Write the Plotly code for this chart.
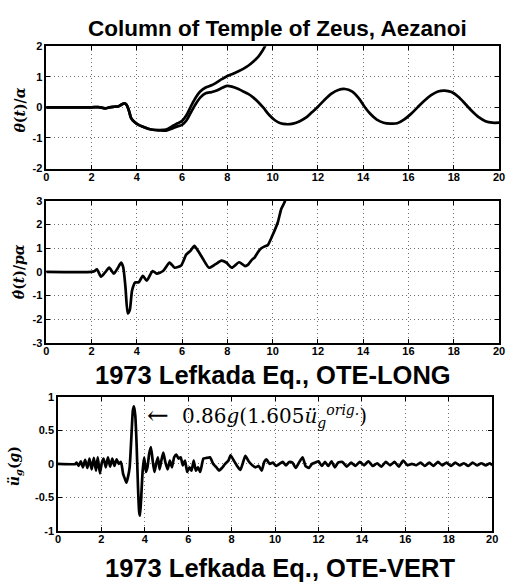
import plotly.graph_objects as go

W, H = 508, 587

# ---------------- data ----------------
theta_A_t = [0, 2.0, 2.3, 2.6, 2.8, 3.0, 3.2, 3.35, 3.45, 3.55,
             3.65, 3.75, 3.9, 4.1, 4.3, 4.5, 4.7, 5.0, 5.3, 5.6,
             5.8, 6.0, 6.2, 6.4, 6.61, 6.8, 7.04, 7.3, 7.5, 7.75,
             7.98, 8.2, 8.49, 8.7, 8.92, 9.15, 9.37, 9.55, 9.7, 9.85]
theta_A = [0, 0, 0.01, -0.03, 0.0, 0.02, 0.04, 0.1, 0.13, 0.08,
           -0.1, -0.35, -0.48, -0.58, -0.64, -0.7, -0.73, -0.74, -0.72, -0.6,
           -0.52, -0.44, -0.25, 0.05, 0.33, 0.52, 0.65, 0.72, 0.8, 0.92,
           1.02, 1.08, 1.18, 1.26, 1.36, 1.5, 1.66, 1.85, 2.05, 2.3]

theta_B_t = [0, 2.0, 2.3, 2.6, 2.8, 3.0, 3.2, 3.35, 3.45, 3.55,
             3.65, 3.75, 3.9, 4.1, 4.3, 4.5, 4.7, 5.0, 5.3, 5.6,
             5.8, 6.0, 6.2, 6.4, 6.61, 6.8, 7.04, 7.3, 7.5, 7.75,
             7.98, 8.2, 8.49, 8.7, 8.92, 9.15, 9.37, 9.6, 9.85, 10.1,
             10.35, 10.6, 10.9, 11.2, 11.5, 11.75, 12.0, 12.3, 12.6, 12.9,
             13.2, 13.5, 13.8, 14.05, 14.3, 14.6, 14.9, 15.2, 15.5, 15.8,
             16.1, 16.4, 16.7, 17.0, 17.3, 17.6, 17.9, 18.2, 18.5, 18.8,
             19.1, 19.4, 19.7, 20.0]
theta_B = [0, 0, 0.01, -0.03, 0.0, 0.02, 0.04, 0.1, 0.13, 0.08,
           -0.1, -0.35, -0.48, -0.58, -0.64, -0.7, -0.73, -0.75, -0.76, -0.68,
           -0.62, -0.57, -0.42, -0.15, 0.12, 0.32, 0.46, 0.5, 0.54, 0.63,
           0.7, 0.68, 0.6, 0.52, 0.44, 0.32, 0.17, -0.02, -0.25, -0.42,
           -0.52, -0.55, -0.53, -0.45, -0.32, -0.15, 0.02, 0.25, 0.45, 0.57,
           0.6, 0.52, 0.3, 0.03, -0.2, -0.4, -0.5, -0.53, -0.52, -0.4,
           -0.22, 0.0, 0.22, 0.4, 0.52, 0.55, 0.5, 0.35, 0.12, -0.12,
           -0.32, -0.45, -0.5, -0.5]

thetadot_t = [0, 2.0, 2.12, 2.24, 2.42, 2.6, 2.78, 2.99, 3.15, 3.31,
              3.4, 3.5, 3.6, 3.69, 3.79, 3.93, 4.08, 4.27, 4.44, 4.7,
              4.88, 5.16, 5.45, 5.67, 5.96, 6.18, 6.38, 6.54, 6.7, 6.9,
              7.19, 7.48, 7.74, 7.95, 8.2, 8.52, 8.78, 8.93, 9.07, 9.21,
              9.36, 9.5, 9.65, 9.79, 10.0, 10.23, 10.38, 10.52, 10.65]
thetadot = [0, 0, 0.03, 0.11, -0.2, -0.02, 0.18, -0.07, 0.15, 0.39,
            0.2, -0.65, -1.75, -1.61, -0.79, -0.44, -0.44, -0.17, -0.37, 0.04,
            -0.07, 0.04, 0.39, 0.18, 0.27, 0.73, 0.9, 1.1, 0.9, 0.59,
            0.18, 0.33, 0.48, 0.4, 0.18, 0.41, 0.25, 0.32, 0.5, 0.62,
            0.85, 1.0, 1.08, 1.14, 1.56, 2.1, 2.66, 2.93, 3.3]

acc_t = [0, 0.8, 0.85, 0.95, 1.05, 1.15, 1.25, 1.35, 1.45, 1.55,
         1.65, 1.75, 1.83, 1.93, 2.02, 2.1, 2.2, 2.3, 2.4, 2.5,
         2.6, 2.7, 2.8, 2.9, 3.0, 3.08, 3.15, 3.22, 3.3, 3.38,
         3.45, 3.5, 3.56, 3.62, 3.68, 3.74, 3.78, 3.84, 3.9, 3.97,
         4.05, 4.12, 4.2, 4.28, 4.36, 4.44, 4.52, 4.6, 4.68, 4.76,
         4.85, 4.95, 5.05, 5.15, 5.25, 5.35, 5.45, 5.55, 5.65, 5.75,
         5.85, 5.95, 6.05, 6.15, 6.25, 6.35, 6.45, 6.55, 6.7, 6.85,
         7.0, 7.15, 7.3, 7.42, 7.55, 7.7, 7.85, 7.95, 8.1, 8.25,
         8.4, 8.52, 8.63, 8.78, 8.95, 9.1, 9.25, 9.38, 9.5, 9.6,
         9.75, 9.9, 10.05, 10.2, 10.35, 10.5, 10.65, 10.8, 10.95, 11.1,
         11.27, 11.4, 11.55, 11.7, 11.85, 12.0, 12.15, 12.3, 12.45, 12.6,
         12.75, 12.9, 13.1, 13.3, 13.5, 13.7, 13.9, 14.1, 14.3, 14.5,
         14.7, 14.9, 15.1, 15.3, 15.5, 15.7, 15.9, 16.1, 16.3, 16.5,
         16.7, 16.9, 17.1, 17.3, 17.5, 17.7, 17.9, 18.1, 18.3, 18.5,
         18.7, 18.9, 19.1, 19.3, 19.5, 19.7, 19.9, 20.0]
acc = [0, 0, 0.02, -0.03, 0.04, -0.05, 0.06, -0.06, 0.08, -0.08,
       0.09, -0.1, 0.1, -0.14, 0.02, 0.08, -0.05, 0.1, -0.04, 0.08,
       -0.03, 0.07, 0.0, 0.03, -0.15, -0.22, -0.28, -0.2, -0.05, 0.4,
       0.8, 0.86, 0.72, 0.3, -0.3, -0.72, -0.77, -0.45, -0.1, 0.1,
       -0.12, -0.05, 0.15, 0.25, 0.05, -0.12, 0.0, 0.1, -0.08, 0.05,
       0.17, 0.02, -0.08, 0.05, -0.05, 0.1, 0.14, 0.08, 0.1, -0.02,
       0.05, -0.12, -0.05, -0.1, 0.05, -0.1, -0.05, -0.12, 0.08, 0.09,
       0.1, 0.0, -0.05, -0.1, -0.06, 0.0, 0.05, 0.13, 0.05, -0.03,
       -0.09, 0.02, 0.12, 0.04, -0.02, -0.05, -0.03, -0.1, 0.03, 0.07,
       0.0, 0.02, -0.03, 0.0, 0.03, -0.02, 0.03, 0.02, -0.06, 0.02,
       0.1, -0.03, -0.06, 0.0, 0.02, 0.04, -0.03, 0.03, -0.03, 0.04,
       -0.05, 0.02, 0.03, -0.04, 0.02, -0.03, 0.03, -0.02, 0.04, -0.03,
       0.01, -0.04, 0.03, -0.02, 0.03, -0.04, 0.05, -0.02, 0.0, -0.02,
       0.02, -0.03, 0.02, -0.03, 0.03, -0.02, 0.02, -0.03, 0.02, -0.02,
       0.01, -0.03, 0.02, -0.02, 0.01, -0.02, 0.01, -0.02]

assert len(theta_A_t) == len(theta_A)
assert len(theta_B_t) == len(theta_B)
assert len(thetadot_t) == len(thetadot)
assert len(acc_t) == len(acc)

x_ticks = [0, 2, 4, 6, 8, 10, 12, 14, 16, 18, 20]
y1_ticks = [-2, -1, 0, 1, 2]
y2_ticks = [-3, -2, -1, 0, 1, 2, 3]
y3_ticks = [-1, -0.5, 0, 0.5, 1]
y1_labels = ["-2", "-1", "0", "1", "2"]
y2_labels = ["-3", "-2", "-1", "0", "1", "2", "3"]
y3_labels = ["-1", "-0.5", "0", "0.5", "1"]

title_top = "Column of Temple of Zeus, Aezanoi"
title_mid = "1973 Lefkada Eq., OTE-LONG"
title_bot = "1973 Lefkada Eq., OTE-VERT"

# ---------------- figure ----------------
def px_x(p):
    return p / W

def px_y(p):
    return 1 - p / H

line_style = dict(color="black", width=2.7)

fig = go.Figure()
fig.add_trace(go.Scatter(x=theta_A_t, y=theta_A, mode="lines", line=dict(shape="spline", smoothing=0.8, **line_style),
                         xaxis="x", yaxis="y", showlegend=False))
fig.add_trace(go.Scatter(x=theta_B_t, y=theta_B, mode="lines", line=dict(shape="spline", smoothing=0.8, **line_style),
                         xaxis="x", yaxis="y", showlegend=False))
fig.add_trace(go.Scatter(x=thetadot_t, y=thetadot, mode="lines", line=dict(shape="spline", smoothing=0.6, **line_style),
                         xaxis="x2", yaxis="y2", showlegend=False))
fig.add_trace(go.Scatter(x=acc_t, y=acc, mode="lines", line=dict(shape="spline", smoothing=0.5, **line_style),
                         xaxis="x3", yaxis="y3", showlegend=False))

tickfont = dict(family="Liberation Sans, Arial", size=11, color="black", weight="bold")
grid = dict(showgrid=True, gridcolor="#6f6f6f", griddash="1px,3px", gridwidth=1)

def xax(domain, anchor):
    return dict(domain=domain, anchor=anchor, range=[0, 20], tickvals=x_ticks,
                ticktext=[str(v) for v in x_ticks], showline=True, linecolor="black",
                linewidth=1.5, mirror="ticks", ticks="inside", ticklen=4, tickcolor="black",
                ticklabelstandoff=-3,
                zeroline=False, tickfont=tickfont, fixedrange=True, **grid)

def yax(domain, anchor, rng, tv, tt):
    return dict(domain=domain, anchor=anchor, range=rng, tickvals=tv, ticktext=tt,
                showline=True, linecolor="black", linewidth=1.5, mirror="ticks",
                ticks="inside", ticklen=4, tickcolor="black",
                zeroline=False, tickfont=tickfont, fixedrange=True, **grid)

d12 = [px_x(44), px_x(505)]
d3 = [px_x(56), px_x(498)]

fig.update_layout(
    width=W, height=H, margin=dict(l=0, r=0, t=0, b=0),
    paper_bgcolor="white", plot_bgcolor="white",
    xaxis=xax(d12, "y"),
    yaxis=yax([px_y(166), px_y(41)], "x", [-2, 2], y1_ticks, y1_labels),
    xaxis2=xax(d12, "y2"),
    yaxis2=yax([px_y(344), px_y(199)], "x2", [-3, 3], y2_ticks, y2_labels),
    xaxis3=xax(d3, "y3"),
    yaxis3=yax([px_y(536), px_y(399)], "x3", [-1, 1], y3_ticks, y3_labels),
)

title_font = dict(family="Liberation Sans, Arial", size=22.5, color="black", weight="bold")
big_title_font = dict(family="Liberation Sans, Arial", size=25.5, color="black", weight="bold")
label_font = dict(family="DejaVu Serif, Liberation Serif", size=14, color="black", weight="bold")
eq_font = dict(family="DejaVu Serif, Liberation Serif", size=20, color="black")

annotations = [
    dict(text=title_top, x=px_x(279), y=px_y(23), xref="paper", yref="paper",
         showarrow=False, font=title_font, xanchor="center", yanchor="middle"),
    dict(text=title_mid, x=px_x(275), y=px_y(377), xref="paper", yref="paper",
         showarrow=False, font=big_title_font, xanchor="center", yanchor="middle"),
    dict(text=title_bot, x=px_x(282), y=px_y(574), xref="paper", yref="paper",
         showarrow=False, font=big_title_font, xanchor="center", yanchor="middle"),
    dict(text="<i>θ</i>(<i>t</i>)/<i>α</i>", x=px_x(17), y=px_y(106), xref="paper", yref="paper",
         showarrow=False, font=label_font, textangle=-90, xanchor="center", yanchor="middle"),
    dict(text="<i>θ̇</i>(<i>t</i>)/<i>pα</i>", x=px_x(17), y=px_y(271), xref="paper", yref="paper",
         showarrow=False, font=label_font, textangle=-90, xanchor="center", yanchor="middle"),
    dict(text="<i>ü<sub>g</sub></i>(<i>g</i>)", x=px_x(13), y=px_y(470), xref="paper", yref="paper",
         showarrow=False, font=label_font, textangle=-90, xanchor="center", yanchor="middle"),
    dict(text="←", x=px_x(145), y=px_y(418), xref="paper", yref="paper", showarrow=False,
         font=dict(eq_font, size=26), xanchor="left", yanchor="middle"),
    dict(text="0.86<i>g</i>(1.605<i>ü</i><sub><i>g</i></sub><sup><i>orig.</i></sup>)",
         x=px_x(180), y=px_y(419), xref="paper", yref="paper", showarrow=False,
         font=eq_font, xanchor="left", yanchor="middle"),
]
fig.update_layout(annotations=annotations)

fig.write_html("out.html")
